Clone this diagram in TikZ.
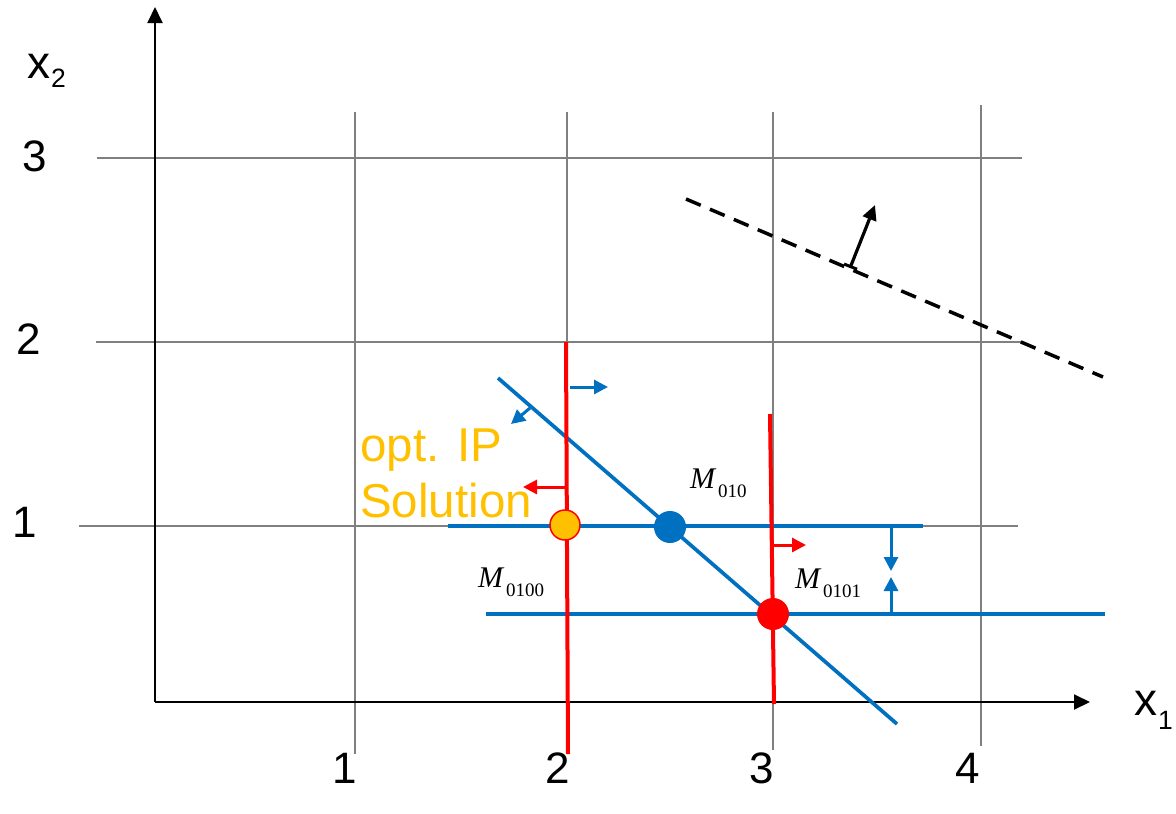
\documentclass[tikz,border=0pt]{standalone}
\usepackage{fontspec}
\setmainfont{Liberation Sans}
\newfontfamily\tmsfont{Liberation Serif}
\usetikzlibrary{arrows.meta}
\definecolor{gridgray}{RGB}{128,128,128}
\definecolor{ipblue}{RGB}{0,112,192}
\definecolor{ipred}{RGB}{255,0,0}
\definecolor{iporange}{RGB}{255,192,0}
\tikzset{
  gridline/.style={draw=gridgray, line width=2pt},
  axisline/.style={draw=black, line width=2pt, -{Triangle[length=16pt,width=15pt]}},
  ticklabel/.style={inner sep=0pt, font=\fontsize{44}{44}\selectfont},
  bluecut/.style={draw=ipblue, line width=4.8pt},
  redcut/.style={draw=ipred, line width=4pt},
  bluearrow/.style={draw=ipblue, line width=3pt, -{Triangle[length=14pt,width=14pt]}},
  redarrow/.style={draw=ipred, line width=3pt, -{Triangle[length=14pt,width=14pt]}},
  dot/.style={circle, inner sep=0pt, minimum size=32pt},
  mlabel/.style={inner sep=0pt, anchor=base west},
}
\newcommand{\mtxt}[1]{{\tmsfont\fontsize{30}{30}\selectfont\itshape M}\hspace{3pt}\raisebox{-9pt}{\tmsfont\fontsize{19}{19}\selectfont #1}}
\begin{document}
\begin{tikzpicture}[x=1pt,y=-1pt]
\useasboundingbox (0,0) rectangle (1176,814);
% grid
\draw[gridline] (355,112) -- (355,754);
\draw[gridline] (567,112) -- (567,754);
\draw[gridline] (773,112) -- (773,750);
\draw[gridline] (981,105) -- (981,746);
\draw[gridline] (97,158) -- (1022,158);
\draw[gridline] (96,342) -- (1022,342);
\draw[gridline] (79,526) -- (1018,526);
% axes
\coordinate (O) at (155,702);
\coordinate (xend) at (1090,702);
\coordinate (yend) at (155,7);
\draw[axisline] (O) -- (xend);
\draw[axisline] (O) -- (yend);
% axis labels
\node[mlabel, font=\fontsize{46}{46}\selectfont] (x2lab) at (27,78) {x\hspace{1pt}\raisebox{-9pt}{\fontsize{26.5}{26.5}\selectfont 2}};
\node[mlabel, font=\fontsize{46}{46}\selectfont] (x1lab) at (1134,715) {x\hspace{1pt}\raisebox{-14pt}{\fontsize{26.5}{26.5}\selectfont 1}};
\node[ticklabel] (ly3) at (35,156) {3};
\node[ticklabel] (ly2) at (29,339) {2};
\node[ticklabel] (ly1) at (25,522) {1};
\node[ticklabel] (lx1) at (345,768) {1};
\node[ticklabel] (lx2) at (558,768) {2};
\node[ticklabel] (lx3) at (762,768) {3};
\node[ticklabel] (lx4) at (968,768) {4};
% objective (dashed)
\coordinate (obj1) at (686,199);
\coordinate (obj2) at (1103,377);
\draw[line width=3.5pt, dash pattern=on 16pt off 10pt] (obj1) -- (obj2);
\coordinate (objbase) at (850,268);
\coordinate (objtip) at (875,205);
\draw[line width=3.2pt, {Bar[width=14pt,line width=3pt]}-{Triangle[length=15pt,width=14pt]}] (objbase) -- (objtip);
% blue cuts
\coordinate (bh1a) at (448,526);
\coordinate (bh1b) at (923,526);
\coordinate (bh2a) at (486,614);
\coordinate (bh2b) at (1105,614);
\draw[bluecut] (bh1a) -- (bh1b);
\draw[bluecut] (bh2a) -- (bh2b);
\coordinate (diag1) at (498,378);
\coordinate (diag2) at (897,724);
\draw[draw=ipblue, line width=3.7pt] (diag1) -- (diag2);
% blue arrows
\coordinate (ba1s) at (570,387);
\coordinate (ba1e) at (608,387);
\draw[bluearrow] (ba1s) -- (ba1e);
\coordinate (ba2s) at (530,408);
\coordinate (ba2e) at (511,424);
\draw[bluearrow] (ba2s) -- (ba2e);
\coordinate (ba3s) at (891,528);
\coordinate (ba3e) at (891,571);
\draw[bluearrow] (ba3s) -- (ba3e);
\coordinate (ba4s) at (891,613);
\coordinate (ba4e) at (891,577);
\draw[bluearrow] (ba4s) -- (ba4e);
% red cuts
\coordinate (r1a) at (566,342);
\coordinate (r1b) at (568,754);
\draw[redcut] (r1a) -- (r1b);
\coordinate (r2a) at (770,414);
\coordinate (r2b) at (774,704);
\draw[redcut] (r2a) -- (r2b);
\coordinate (ra1s) at (565,487);
\coordinate (ra1e) at (523,487);
\draw[redarrow] (ra1s) -- (ra1e);
\coordinate (ra2s) at (773,545);
\coordinate (ra2e) at (806,545);
\draw[redarrow] (ra2s) -- (ra2e);
% points
\node[dot, fill=ipblue] (p010) at (670,527) {};
\node[dot, fill=iporange, draw=ipred, line width=1.5pt, minimum size=30pt] (popt) at (565,525) {};
\node[dot, fill=ipred] (p0101) at (773,614) {};
% labels
\node[mlabel] (m010) at (690,488) {\mtxt{010}};
\node[mlabel] (m0100) at (478,587) {\mtxt{0100}};
\node[mlabel] (m0101) at (795,588) {\mtxt{0101}};
\node[inner sep=0pt, anchor=base west, text=iporange, font=\fontsize{47.5}{47.5}\selectfont] (opt1) at (360,461) {opt. IP};
\node[inner sep=0pt, anchor=base west, text=iporange, font=\fontsize{47.5}{47.5}\selectfont] (opt2) at (360,517) {Solution};
\end{tikzpicture}
\end{document}
